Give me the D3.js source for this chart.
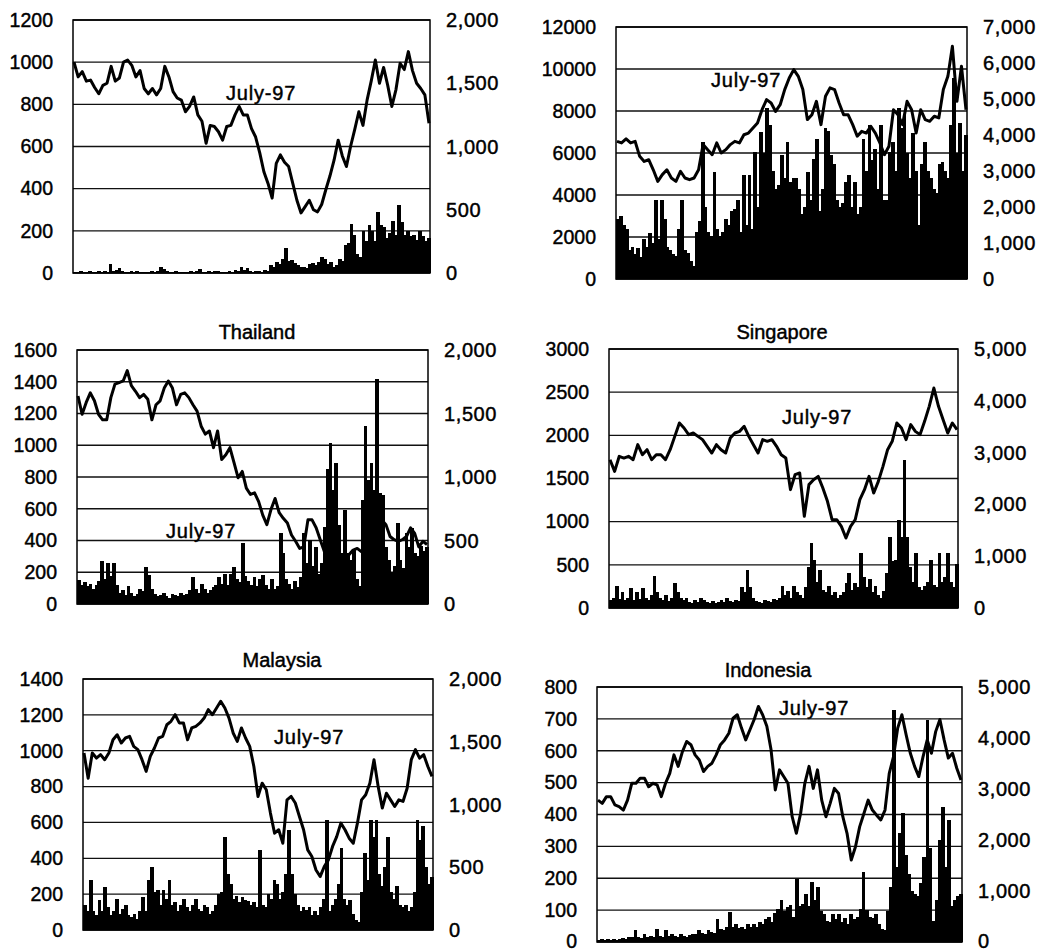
<!DOCTYPE html>
<html>
<head>
<meta charset="utf-8">
<script src="https://cdn.jsdelivr.net/npm/d3@7"></script>
<style>
  body { margin: 0; background: #fff; }
  svg text { font-family: "Liberation Sans", Arial, sans-serif; fill: #000; stroke: #000; stroke-width: 0.45px; }
</style>
</head>
<body>
<script>
// stock index (left axis) and trading volume (right axis) for six markets
var topLeftIndex = [1000, 930, 955, 910, 915, 880, 850, 890, 900, 980, 910, 925, 1000, 1010, 985, 930, 960, 875, 850, 875,
    845, 875, 980, 930, 860, 830, 820, 765, 790, 835, 750, 720, 615, 700, 695, 670, 630, 695, 700, 750,
    790, 750, 750, 685, 645, 570, 480, 425, 355, 520, 560, 525, 505, 425, 345, 285, 315, 345, 300, 290,
    325, 395, 460, 535, 630, 555, 505, 600, 680, 765, 700, 820, 910, 1010, 900, 975, 890, 790, 870, 995,
    965, 1050, 960, 900, 875, 845, 710];
var topLeftVolume = [10, 8, 12, 6, 9, 14, 7, 10, 12, 8, 15, 9, 70, 12, 20, 40, 15, 10, 8, 14,
    9, 12, 7, 11, 10, 8, 13, 9, 18, 50, 35, 14, 10, 8, 12, 9, 11, 7, 10, 13,
    8, 12, 35, 10, 8, 14, 9, 12, 16, 10, 8, 11, 13, 9, 20, 15, 45, 25, 40, 14,
    10, 12, 18, 9, 20, 15, 60, 45, 90, 70, 110, 200, 95, 100, 80, 60, 50, 45, 40, 70,
    80, 60, 90, 130, 110, 70, 85, 50, 60, 110, 95, 220, 240, 390, 300, 150, 130, 330, 250, 380,
    330, 250, 480, 380, 360, 280, 320, 410, 300, 540, 400, 300, 330, 290, 300, 260, 330, 290, 250, 280];

var topRightIndex = [6555, 6480, 6670, 6480, 6555, 5840, 5600, 5680, 5200, 4650, 4970, 5200, 4810, 4650, 5130, 4810, 4730, 4810, 5200, 6400,
    6160, 5920, 6480, 6000, 6160, 6400, 6555, 6480, 6870, 6950, 7190, 7430, 8060, 8540, 8380, 7980, 8300, 9020, 9570, 9970,
    9650, 9020, 7590, 7820, 8460, 7350, 8700, 9100, 9020, 8380, 7820, 7820, 7350, 6800, 7030, 6950, 7270, 6950, 6480, 5920,
    6320, 8060, 7820, 7350, 8460, 8060, 6950, 8060, 7590, 7510, 7750, 7670, 9020, 9650, 11080, 8460, 10130, 8060];
var topRightVolume = [1660, 1750, 1500, 1400, 800, 900, 700, 850, 600, 1100, 900, 1290, 1000, 2200, 1100, 2200, 1660, 900, 800, 700,
    640, 1400, 2200, 800, 730, 500, 355, 1300, 1600, 3800, 2000, 1300, 1200, 2970, 1400, 1200, 1300, 1660, 1500, 1900,
    1950, 2200, 1300, 2880, 1500, 2880, 1400, 3530, 2000, 4090, 3500, 4750, 4280, 3000, 2500, 2600, 3440, 2800, 3810, 2700,
    2800, 2800, 2500, 1800, 2000, 2970, 2200, 3345, 3900, 1900, 2500, 4190, 4100, 3440, 3200, 2200, 2000, 2100, 2700, 2900,
    2000, 2700, 1800, 2000, 3900, 3000, 4280, 3300, 3600, 2500, 4280, 2200, 2200, 3530, 3810, 3000, 4750, 4200, 4560, 3500,
    2800, 4050, 3000, 1500, 3200, 3810, 3000, 2800, 2500, 2400, 3200, 3250, 3000, 2800, 4280, 5590, 3500, 4330, 3000, 4000];

var thailandIndex = [1310, 1195, 1270, 1330, 1280, 1195, 1160, 1160, 1300, 1385, 1395, 1405, 1470, 1375, 1340, 1300, 1320, 1290, 1160, 1255,
    1280, 1360, 1405, 1360, 1255, 1320, 1330, 1300, 1255, 1215, 1120, 1070, 1090, 985, 1090, 910, 940, 985, 890, 795,
    835, 730, 690, 700, 645, 560, 500, 595, 665, 575, 540, 510, 435, 395, 350, 360, 530, 530, 480, 405,
    330, 265, 245, 255, 225, 290, 310, 340, 350, 330, 340, 350, 405, 465, 530, 500, 425, 405, 395, 405,
    425, 480, 445, 360, 395, 375];
var thailandVolume = [190, 150, 170, 140, 160, 120, 150, 180, 335, 200, 320, 220, 320, 150, 90, 110, 70, 140, 90, 60,
    80, 120, 100, 295, 230, 120, 80, 60, 70, 90, 60, 50, 80, 70, 60, 90, 70, 80, 110, 215,
    120, 90, 160, 120, 90, 110, 130, 150, 215, 160, 240, 150, 240, 295, 200, 170, 480, 220, 180, 150,
    215, 140, 200, 230, 150, 120, 200, 120, 140, 560, 400, 200, 160, 120, 180, 130, 210, 560, 320, 505,
    300, 450, 240, 320, 610, 1060, 1270, 900, 1110, 620, 400, 740, 400, 350, 425, 200, 140, 820, 1400, 980,
    1110, 900, 1770, 875, 860, 450, 350, 250, 300, 635, 350, 280, 560, 450, 600, 400, 380, 460, 420, 450];

var singaporeIndex = [1718, 1583, 1757, 1737, 1757, 1718, 1892, 1776, 1834, 1718, 1776, 1776, 1718, 1834, 1988, 2143, 2085, 2008, 2027, 1988,
    1950, 1873, 1795, 1892, 1834, 1795, 1969, 2027, 2046, 2104, 1988, 1892, 1795, 1950, 1931, 1950, 1873, 1776, 1737, 1371,
    1544, 1564, 1062, 1429, 1486, 1525, 1390, 1236, 1023, 1023, 946, 811, 946, 1023, 1255, 1371, 1525, 1332, 1467, 1641,
    1834, 1931, 2143, 2085, 1950, 2124, 2046, 2008, 2162, 2336, 2548, 2336, 2181, 2027, 2143, 2066];
var singaporeVolume = [150, 200, 420, 180, 300, 150, 200, 390, 150, 300, 180, 380, 200, 160, 250, 610, 300, 200, 150, 250,
    140, 200, 480, 300, 200, 150, 200, 120, 100, 150, 120, 200, 150, 110, 100, 130, 100, 120, 150, 110,
    200, 130, 110, 150, 140, 400, 300, 740, 400, 200, 140, 120, 100, 150, 130, 120, 180, 150, 200, 420,
    250, 330, 200, 420, 300, 250, 200, 400, 800, 1255, 930, 500, 740, 350, 300, 420, 250, 300, 200, 250,
    300, 480, 675, 350, 480, 400, 1060, 600, 400, 560, 300, 420, 250, 200, 330, 675, 1380, 900, 930, 1700,
    1380, 2860, 1380, 800, 500, 1060, 400, 350, 420, 500, 930, 450, 400, 1060, 500, 600, 1060, 500, 400, 850];

var malaysiaIndex = [987, 847, 987, 959, 978, 950, 987, 1061, 1089, 1043, 1071, 1080, 1024, 1006, 950, 885, 968, 1015, 1071, 1080,
    1145, 1164, 1201, 1155, 1155, 1061, 1127, 1136, 1155, 1182, 1229, 1201, 1238, 1276, 1238, 1182, 1099, 1052, 1127, 1071,
    1024, 912, 745, 819, 782, 652, 540, 559, 484, 726, 745, 708, 633, 559, 447, 410, 335, 298, 354, 391,
    466, 521, 596, 559, 512, 484, 596, 726, 754, 819, 950, 801, 680, 763, 726, 689, 726, 717, 791, 950,
    1006, 959, 978, 912, 857];
var malaysiaVolume = [200, 150, 400, 150, 120, 240, 150, 345, 180, 120, 150, 250, 130, 170, 200, 120, 100, 130, 90, 150,
    265, 150, 400, 505, 300, 320, 200, 320, 250, 400, 200, 220, 150, 200, 250, 180, 150, 200, 250, 170,
    150, 200, 180, 130, 150, 200, 290, 300, 745, 450, 370, 250, 270, 220, 260, 240, 230, 200, 220, 180,
    640, 200, 180, 290, 250, 400, 370, 250, 300, 450, 800, 450, 290, 200, 150, 180, 160, 180, 120, 150,
    120, 180, 250, 880, 150, 200, 250, 370, 650, 250, 200, 240, 130, 80, 60, 300, 610, 400, 880, 745,
    880, 450, 350, 500, 745, 300, 250, 350, 200, 180, 200, 150, 180, 300, 880, 720, 825, 500, 370, 420];

var indonesiaIndex = [445, 435, 456, 456, 430, 425, 414, 445, 498, 498, 514, 514, 487, 498, 493, 456, 498, 529, 587, 551,
    597, 629, 619, 587, 571, 535, 551, 561, 587, 619, 634, 655, 702, 713, 671, 634, 666, 698, 739, 713,
    677, 603, 477, 540, 519, 498, 393, 341, 403, 498, 551, 482, 540, 445, 393, 435, 482, 466, 393, 341,
    257, 299, 362, 403, 445, 414, 398, 383, 414, 529, 581, 671, 713, 650, 592, 551, 519, 581, 634, 592,
    660, 698, 634, 577, 592, 545, 508];
var indonesiaVolume = [40, 60, 30, 50, 40, 60, 45, 50, 80, 60, 100, 90, 230, 100, 80, 160, 100, 120, 90, 260,
    120, 100, 230, 110, 160, 120, 100, 160, 120, 100, 130, 160, 150, 230, 180, 160, 230, 200, 180, 460,
    260, 230, 300, 590, 300, 350, 280, 300, 250, 360, 300, 360, 300, 400, 350, 450, 500, 400, 560, 650,
    820, 600, 690, 720, 500, 1245, 700, 750, 950, 700, 1180, 820, 1080, 600, 550, 420, 400, 550, 450, 550,
    400, 480, 350, 550, 450, 500, 650, 1376, 620, 500, 480, 550, 350, 250, 230, 600, 1080, 4550, 1475, 2130,
    2520, 1700, 1340, 1000, 950, 900, 1150, 1670, 4360, 1850, 420, 820, 2000, 2650, 1475, 2390, 700, 820, 900, 950];

// axis tick labels
var ticksA = [0, 200, 400, 600, 800, 1000, 1200];
var ticksB = [0, 2000, 4000, 6000, 8000, 10000, 12000];
var ticksC = [0, 200, 400, 600, 800, 1000, 1200, 1400, 1600];
var ticksD = [0, 500, 1000, 1500, 2000, 2500, 3000];
var ticksE = [0, 200, 400, 600, 800, 1000, 1200, 1400];
var ticksF = [0, 100, 200, 300, 400, 500, 600, 700, 800];
var volTicks2000 = [0, 500, 1000, 1500, 2000];
var volTicks7000 = [0, 1000, 2000, 3000, 4000, 5000, 6000, 7000];
var volTicks5000 = [0, 1000, 2000, 3000, 4000, 5000];

var titles = ["", "", "Thailand", "Singapore", "Malaysia", "Indonesia"];
var note = "July-97";

var W = 1043, H = 951;

var svg = d3.select("body").append("svg")
    .attr("width", W)
    .attr("height", H);

// layout of each small chart (pixels)
var layout = [
    { l: 73, r: 430, t: 20, b: 273, noteX: 226, noteY: 93, titleX: 0, titleY: 0 },
    { l: 616, r: 967, t: 27, b: 279, noteX: 711, noteY: 80, titleX: 0, titleY: 0 },
    { l: 77, r: 428, t: 350, b: 604, noteX: 166, noteY: 531, titleX: 257, titleY: 332 },
    { l: 609, r: 958, t: 349, b: 608, noteX: 782, noteY: 417, titleX: 782, titleY: 332 },
    { l: 83, r: 433, t: 679, b: 930, noteX: 274, noteY: 737, titleX: 282, titleY: 660 },
    { l: 597, r: 962, t: 687, b: 942, noteX: 779, noteY: 708, titleX: 768, titleY: 670 }
];

var series = [
    [topLeftIndex, topLeftVolume, ticksA, volTicks2000],
    [topRightIndex, topRightVolume, ticksB, volTicks7000],
    [thailandIndex, thailandVolume, ticksC, volTicks2000],
    [singaporeIndex, singaporeVolume, ticksD, volTicks5000],
    [malaysiaIndex, malaysiaVolume, ticksE, volTicks2000],
    [indonesiaIndex, indonesiaVolume, ticksF, volTicks5000]
];

// keep the lowest labels inside the page
var labelY = function (v) {
    return Math.min(v, H - 10);
}

var drawPanel = function (i) {
    var p = layout[i];
    var index = series[i][0];
    var volume = series[i][1];
    var leftTicks = series[i][2];
    var rightTicks = series[i][3];

    var g = svg.append("g");

    var y = d3.scaleLinear()
        .domain([0, d3.max(leftTicks)])
        .range([p.b, p.t]);
    var yv = d3.scaleLinear()
        .domain([0, d3.max(rightTicks)])
        .range([p.b, p.t]);
    var xLine = d3.scaleLinear()
        .domain([0, index.length - 1])
        .range([p.l + 1, p.r - 1]);
    var xBar = d3.scaleBand()
        .domain(d3.range(volume.length))
        .range([p.l, p.r])
        .padding(0);

    // gridlines
    g.selectAll(".grid")
        .data(leftTicks)
        .enter()
        .append("line")
        .attr("x1", p.l)
        .attr("x2", p.r)
        .attr("y1", (d) => { return y(d) })
        .attr("y2", (d) => { return y(d) })
        .style("stroke", "#111")
        .style("stroke-width", 1.3);

    // volume bars
    g.selectAll(".bar")
        .data(volume)
        .enter()
        .append("rect")
        .attr("x", (d, j) => { return xBar(j) })
        .attr("y", (d) => { return yv(d) })
        .attr("width", xBar.bandwidth() + 0.8)
        .attr("height", (d) => { return p.b - yv(d) })
        .attr("shape-rendering", "crispEdges")
        .style("fill", "#000");

    // index line
    var line = d3.line()
        .x((d, j) => { return xLine(j) })
        .y((d) => { return y(d) });

    g.append("path")
        .datum(index)
        .attr("d", line)
        .style("fill", "none")
        .style("stroke", "#000")
        .style("stroke-width", 3)
        .style("stroke-linejoin", "round");

    // frame
    g.append("rect")
        .attr("x", p.l)
        .attr("y", p.t)
        .attr("width", p.r - p.l)
        .attr("height", p.b - p.t)
        .style("fill", "none")
        .style("stroke", "#000")
        .style("stroke-width", 1.5);

    // left axis labels
    g.selectAll(".lt")
        .data(leftTicks)
        .enter()
        .append("text")
        .attr("x", p.l - 20)
        .attr("y", (d) => { return labelY(y(d)) })
        .attr("dy", "0.35em")
        .attr("text-anchor", "end")
        .style("font-size", "19.5px")
        .text((d) => { return d });

    // right axis labels
    g.selectAll(".rt")
        .data(rightTicks)
        .enter()
        .append("text")
        .attr("x", p.r + 16)
        .attr("y", (d) => { return labelY(yv(d)) })
        .attr("dy", "0.35em")
        .attr("text-anchor", "start")
        .style("font-size", "20px")
        .style("letter-spacing", "0.6px")
        .text((d) => { return d3.format(",")(d) });

    g.append("text")
        .attr("x", p.noteX)
        .attr("y", p.noteY)
        .attr("dy", "0.35em")
        .style("font-size", "20px")
        .style("letter-spacing", "0.8px")
        .text(note);

    if (titles[i]) {
        g.append("text")
            .attr("x", p.titleX)
            .attr("y", p.titleY)
            .attr("dy", "0.35em")
            .attr("text-anchor", "middle")
            .style("font-size", "20px")
            .text(titles[i]);
    }
}

for (var k = 0; k < 6; k++) {
    drawPanel(k);
}
</script>
</body>
</html>
